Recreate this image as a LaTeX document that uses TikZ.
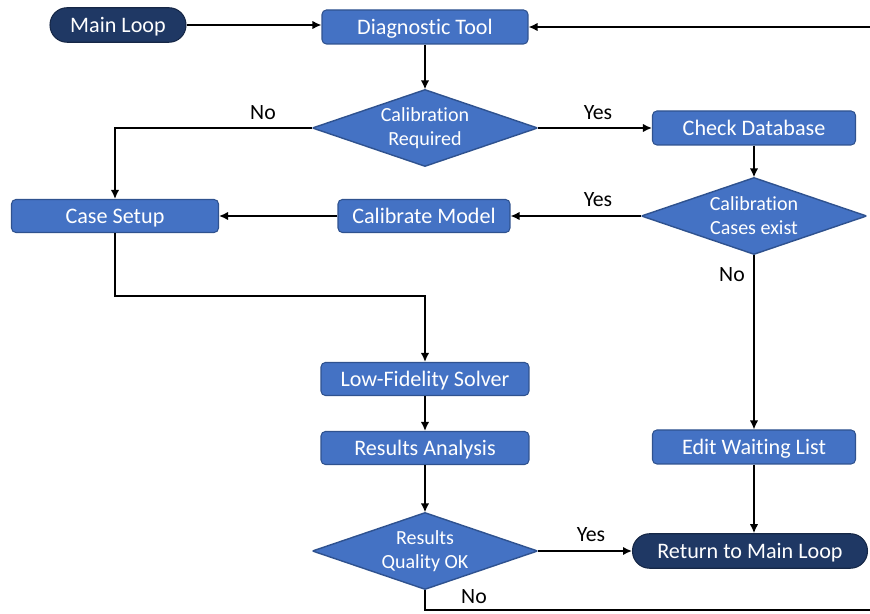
\documentclass[tikz,border=0pt]{standalone}
\usepackage{fontspec}
\setmainfont{Carlito}[Ligatures=NoCommon]
\usetikzlibrary{
    arrows.meta,
    calc
}
\definecolor{BoxBlue}{RGB}{68,114,196}
\definecolor{BoxEdge}{RGB}{47,82,143}
\definecolor{NavyBlue}{RGB}{31,56,100}

\begin{document}
\begin{tikzpicture}[
    x=0.02cm,
    y=-0.02cm,
    >={Latex[length=1.8mm,width=1.7mm]},
    process/.style={
        draw=BoxEdge,
        line width=0.6pt,
        rounded corners=2.5pt,
        fill=BoxBlue,
        text=white,
        font=\fontsize{12.6}{14}\selectfont,
        minimum height=0.68cm,
        text height=2ex,
        text depth=0.25ex,
        inner sep=2pt
    },
    terminal/.style={
        draw=NavyBlue!70!black,
        line width=0.6pt,
        fill=NavyBlue,
        text=white,
        rounded corners=0.34cm,
        font=\fontsize{12.6}{14}\selectfont,
        minimum height=0.69cm,
        text height=2ex,
        text depth=0.25ex,
        inner sep=2pt
    },
    decision/.style={
        rectangle,
        minimum width=4.5cm,
        minimum height=1.53cm,
        inner sep=0pt,
        text=white,
        align=center,
        font=\fontsize{11.4}{13.6}\selectfont,
        path picture={
            \filldraw[fill=BoxBlue, draw=BoxEdge, line width=0.8pt]
                (path picture bounding box.north) --
                (path picture bounding box.east) --
                (path picture bounding box.south) --
                (path picture bounding box.west) -- cycle;
        }
    },
    flow/.style={->, line width=1.1pt},
    answer/.style={font=\fontsize{12.4}{14}\selectfont}
]

\useasboundingbox (0,0) rectangle (870,614);

% top row
\node[terminal, minimum width=2.72cm] (mainloop) at (118,25) {Main Loop};
\node[process, minimum width=4.12cm] (diag) at (425,27) {Diagnostic Tool};
\coordinate (loopin) at (870,27);

% calibration branch
\node[decision] (creq) at (425,128) {Calibration\\Required};
\node[process, minimum width=4.06cm] (checkdb) at (754,128) {Check Database};
\node[decision] (cexist) at (754,216) {Calibration\\Cases exist};
\node[process, minimum width=3.44cm, minimum height=0.66cm] (calib) at (424,216) {Calibrate Model};
\node[process, minimum width=4.14cm, minimum height=0.66cm] (setup) at (115,216) {Case Setup};
\node[process, minimum width=4.06cm] (waitlist) at (754,447) {Edit Waiting List};

% solver chain
\coordinate (split) at (425,296);
\node[process, minimum width=4.16cm, minimum height=0.66cm] (lfs) at (425,379) {Low-Fidelity Solver};
\node[process, minimum width=4.16cm, minimum height=0.66cm] (results) at (425,448) {Results Analysis};
\node[decision] (quality) at (425,551) {Results\\Quality OK};
\node[terminal, minimum width=4.7cm] (return) at (750,551) {Return to Main Loop};
\coordinate (loopout) at (870,610);

% connectors
\draw[flow] (mainloop.east) -- (mainloop.east -| diag.west);
\draw[flow] (loopin) -- (diag);
\draw[flow] (diag) -- (creq);
\draw[flow] (creq.west) -| (setup.north);
\draw[flow] (creq) -- (checkdb);
\draw[flow] (checkdb) -- (cexist);
\draw[flow] (cexist) -- (calib);
\draw[flow] (calib) -- (setup);
\draw[flow] (cexist) -- (waitlist);
\draw[flow] (setup.south) |- (split) -- (lfs);
\draw[flow] (lfs) -- (results);
\draw[flow] (results) -- (quality);
\draw[flow] (quality) -- (return);
\draw[flow] (waitlist.south) -- (waitlist.south |- return.north);
\draw[line width=1.1pt] (quality.south) |- (loopout);

% answers
\node[answer] (noreq) at (263,113) {No};
\node[answer] (yesreq) at (598,113) {Yes};
\node[answer] (yesexist) at (598,200) {Yes};
\node[answer] (noexist) at (732,275) {No};
\node[answer] (yesok) at (591,535) {Yes};
\node[answer] (nook) at (474,597) {No};

\end{tikzpicture}
\end{document}
